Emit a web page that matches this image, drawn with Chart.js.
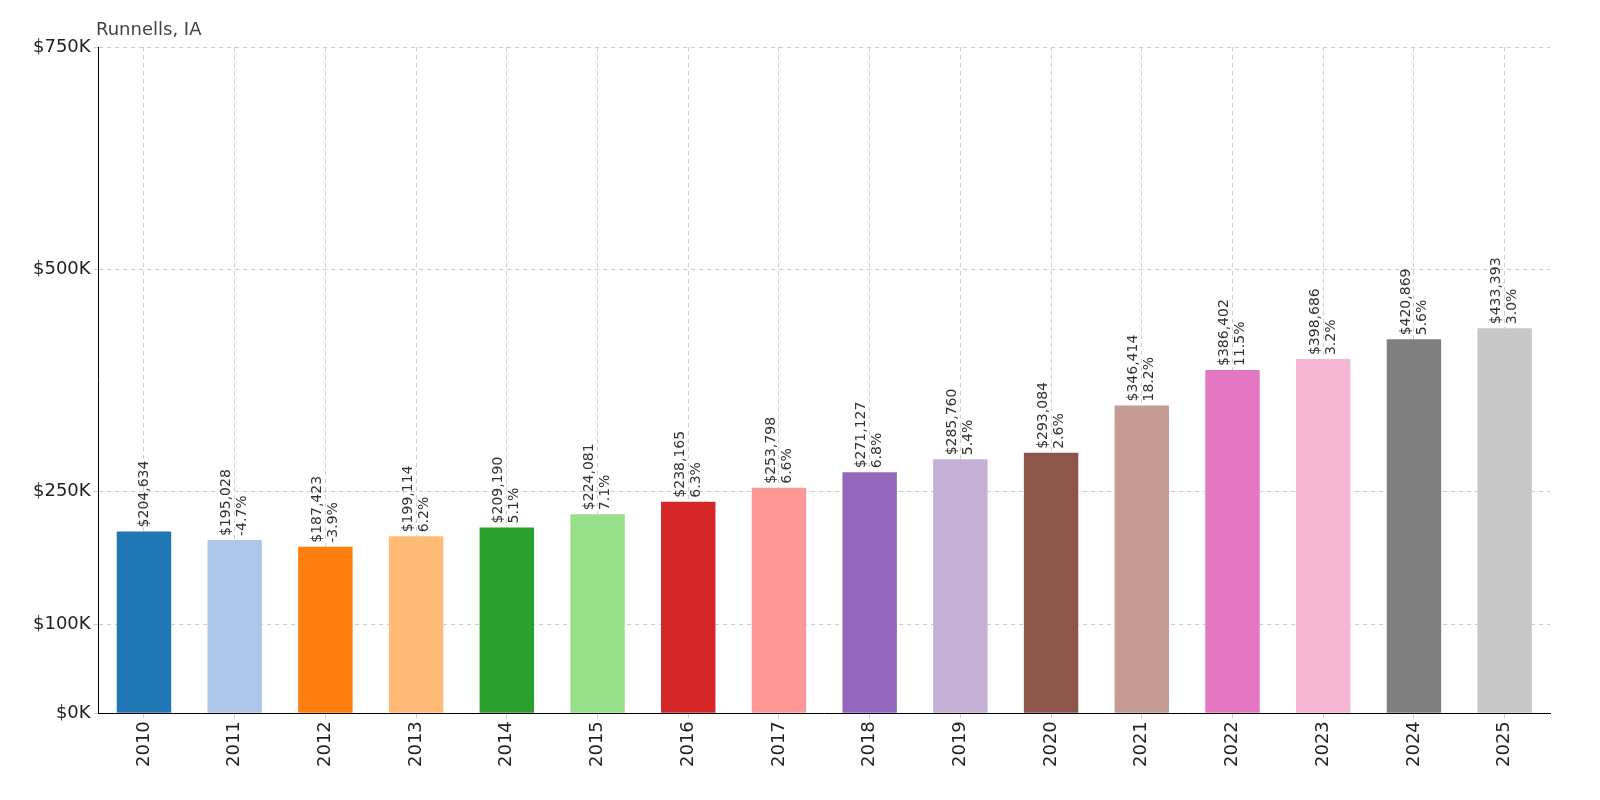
<!DOCTYPE html>
<html><head><meta charset="utf-8">
<script src="https://cdn.jsdelivr.net/npm/chart.js@4"></script>
<style>html,body{margin:0;padding:0;background:#fff;overflow:hidden}#w{width:1600px;height:800px}</style>
</head><body><div id="w"><canvas id="c"></canvas></div>
<script>
const years = ['2010','2011','2012','2013','2014','2015','2016','2017','2018','2019','2020','2021','2022','2023','2024','2025'];
const values = [204634,195028,187423,199114,209190,224081,238165,253798,271127,285760,293084,346414,386402,398686,420869,433393];
const changes = ['','-4.7%','-3.9%','6.2%','5.1%','7.1%','6.3%','6.6%','6.8%','5.4%','2.6%','18.2%','11.5%','3.2%','5.6%','3.0%'];
const tickValues = [0,100000,250000,500000,750000];
const colors = ['#1f77b4','#aec7e8','#ff7f0e','#ffbb78','#2ca02c','#98df8a','#d62728','#ff9896','#9467bd','#c5b0d5','#8c564b','#c49c94','#e377c2','#f7b6d2','#7f7f7f','#c7c7c7'];
const FONT = 'DejaVu Sans';
const labelPlugin = {
  id:'lbl',
  afterDatasetsDraw(chart){
    const ctx=chart.ctx, meta=chart.getDatasetMeta(0);
    ctx.save();
    ctx.font='14px "'+FONT+'"'; ctx.fillStyle='#333';
    meta.data.forEach((bar,i)=>{
      const v='$'+values[i].toLocaleString('en-US');
      ctx.save();
      ctx.translate(bar.x, bar.y-4);
      ctx.rotate(-Math.PI/2);
      ctx.textAlign='left'; ctx.textBaseline='middle';
      if(changes[i]){
        ctx.fillText(v,0,-8); ctx.fillText(changes[i],0,8);
      } else ctx.fillText(v,0,0);
      ctx.restore();
    });
    ctx.font='18px "'+FONT+'"'; ctx.fillStyle='#444'; ctx.textAlign='left'; ctx.textBaseline='alphabetic';
    ctx.fillText('Runnells, IA', 96, 35);
    ctx.restore();
  }
};
new Chart(document.getElementById('c'),{
  type:'bar',
  data:{labels:years,datasets:[{data:values,backgroundColor:colors,barPercentage:0.6,categoryPercentage:1}]},
  options:{
    responsive:true,maintainAspectRatio:false,animation:false,
    layout:{padding:{top:47,right:50,left:30,bottom:30}},
    plugins:{legend:{display:false},tooltip:{enabled:false}},
    scales:{
      x:{grid:{color:'#ccc',offset:false,tickLength:5},border:{color:'#000',dash:[4,4]},
         ticks:{color:'#222',font:{family:FONT,size:18},maxRotation:90,minRotation:90}},
      y:{min:0,max:750000,border:{color:'#000',dash:[4,4]},
         grid:{color:'#ccc',tickLength:5},
         afterBuildTicks(s){s.ticks=tickValues.map(v=>({value:v}));},
         ticks:{color:'#222',font:{family:FONT,size:18},callback:v=>'$'+(v/1000)+'K'}}
    }
  },
  plugins:[labelPlugin]
});
</script></body></html>
